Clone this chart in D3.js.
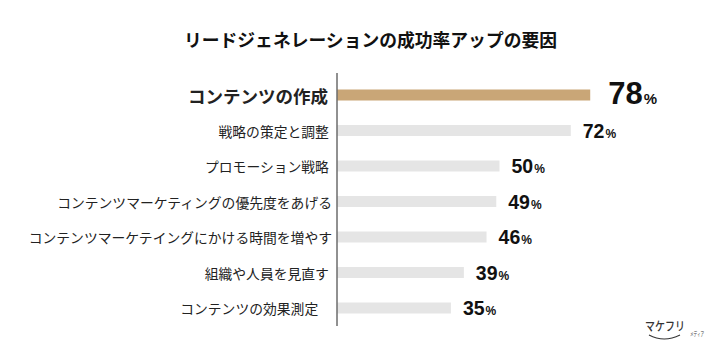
<!DOCTYPE html>
<html><head><meta charset="utf-8">
<script src="https://cdn.jsdelivr.net/npm/d3@7"></script>
<style>
html,body{margin:0;padding:0;background:#fff;}
svg{display:block;}
</style></head>
<body><div id="chart"></div>
<script>
const titleText = "リードジェネレーションの成功率アップの要因";
const categories = ["コンテンツの作成","戦略の策定と調整 ","プロモーション戦略 ","コンテンツマーケティングの優先度をあげる","コンテンツマーケテイングにかける時間を増やす","組織や人員を見直す ","コンテンツの効果測定　"];
const values = [78,72,50,49,46,39,35];
const highlightIndex = 0;

const W = 720, H = 348;
const svg = d3.select("#chart").append("svg").attr("width", W).attr("height", H);
const jp = "'Noto Sans CJK JP','Noto Sans',sans-serif";
const num = "'Liberation Sans',Arial,sans-serif";

const x = d3.scaleLinear().domain([0,100]).range([337.5, 661.5]);
const y = d3.scaleBand().domain(categories).range([77.25, 325.75]).padding(0);
const barH = 11;

svg.append("text").attr("x", 370.5).attr("y", 39).attr("text-anchor","middle")
  .attr("dominant-baseline","central").attr("font-family", jp).attr("font-weight","bold")
  .attr("font-size", 17.8).attr("fill","#111").text(titleText);

const rows = svg.append("g").selectAll("g").data(categories).join("g");

rows.append("rect")
  .attr("x", x(0))
  .attr("y", d => y(d) + y.bandwidth()/2 - barH/2)
  .attr("width", (d,i) => x(values[i]) - x(0))
  .attr("height", barH)
  .attr("fill", (d,i) => i === highlightIndex ? "#c9a677" : "#e5e5e5");

rows.append("text")
  .attr("x", (d,i) => i === highlightIndex ? 328 : 332)
  .attr("y", d => y(d) + y.bandwidth()/2)
  .attr("text-anchor","end").attr("dominant-baseline","central")
  .style("white-space","pre")
  .attr("font-family", jp)
  .attr("font-weight", (d,i) => i === highlightIndex ? "bold" : "normal")
  .attr("font-size", (d,i) => i === highlightIndex ? 17.5 : 13.8)
  .attr("fill", "#222")
  .text(d => d);

const vt = rows.append("text")
  .attr("x", (d,i) => x(values[i]) + (i === highlightIndex ? 18 : 12))
  .attr("y", (d,i) => y(d) + y.bandwidth()/2 + (i === highlightIndex ? 9 : 7))
  .attr("font-family", num).attr("font-weight","bold").attr("fill","#111");
vt.append("tspan").attr("font-size", (d,i) => i === highlightIndex ? 31 : 19.5).text((d,i) => values[i]);
vt.append("tspan").attr("font-size", (d,i) => i === highlightIndex ? 15 : 12).attr("dx", 1).text("%");

svg.append("line").attr("x1", 337).attr("x2", 337).attr("y1", 73).attr("y2", 326)
  .attr("stroke","#222").attr("stroke-width",1);

// logo
const logo = svg.append("g").attr("fill","#333");
logo.append("text").attr("transform","translate(645,331) scale(1,1.2)")
  .attr("font-family", jp).attr("font-weight","500").attr("font-size", 10).text("マケフリ");
logo.append("text").attr("transform","translate(690,336) scale(0.8,1.2)")
  .attr("font-family", jp).attr("font-size", 4.5).text("メディア");
logo.append("path").attr("d","M649,335 Q664,343 680,335").attr("fill","none").attr("stroke","#333").attr("stroke-width",1.1);
</script></body></html>
